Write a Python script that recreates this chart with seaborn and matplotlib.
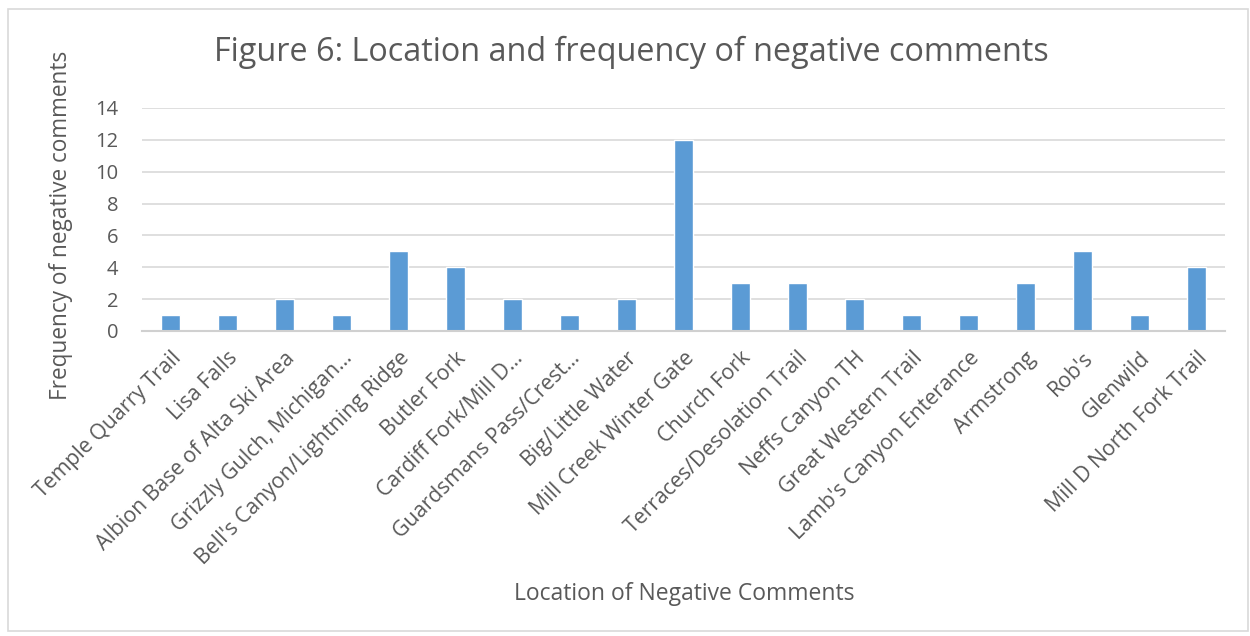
import matplotlib
matplotlib.use("Agg")
import matplotlib.pyplot as plt
import seaborn as sns
import pandas as pd
from matplotlib.patches import Rectangle

locations = [
    "Temple Quarry Trail", "Lisa Falls", "Albion Base of Alta Ski Area",
    "Grizzly Gulch, Michigan…", "Bell's Canyon/Lightning Ridge", "Butler Fork",
    "Cardiff Fork/Mill D…", "Guardsmans Pass/Crest…", "Big/Little Water",
    "Mill Creek Winter Gate", "Church Fork", "Terraces/Desolation Trail",
    "Neffs Canyon TH", "Great Western Trail", "Lamb's Canyon Enterance",
    "Armstrong", "Rob's", "Glenwild", "Mill D North Fork Trail",
]
counts = [1, 1, 2, 1, 5, 4, 2, 1, 2, 12, 3, 3, 2, 1, 1, 3, 5, 1, 4]
y_ticks = [0, 2, 4, 6, 8, 10, 12, 14]

sns.set_theme(style="white")
plt.rcParams['font.family'] = ['Open Sans', 'DejaVu Sans']
text_color = "#595959"

df = pd.DataFrame({"Location": locations, "Count": counts})

fig = plt.figure(figsize=(12.5, 6.36), dpi=100)
ax = fig.add_axes([0.1136, 0.4796, 0.8664, 0.3506])

sns.barplot(data=df, x="Location", y="Count", color="#5B9BD5", width=0.32,
            saturation=1, ax=ax, zorder=3)

ax.set_xlim(-0.5, len(locations) - 0.5)
ax.set_ylim(0, 14)
ax.set_yticks(y_ticks)
ax.yaxis.grid(True, color="#D9D9D9", linewidth=1.2, zorder=0)
ax.xaxis.grid(False)
for s in ["top", "right", "left"]:
    ax.spines[s].set_visible(False)
ax.spines["bottom"].set_color("#D0D0D0")
ax.spines["bottom"].set_linewidth(1.5)
ax.spines["bottom"].set_zorder(4)

ax.tick_params(axis="y", length=0, labelsize=14.5, labelcolor=text_color, pad=17)
ax.tick_params(axis="x", length=0, labelsize=15.3, labelcolor=text_color, pad=12)
plt.setp(ax.get_xticklabels(), rotation=45, ha="right", rotation_mode="anchor")

ax.set_xlabel("")
ax.set_ylabel("")
fig.text(0.049, 0.645, "Frequency of negative comments", rotation=90,
         ha="center", va="center", fontsize=16.3, color=text_color)
fig.text(0.547, 0.066, "Location of Negative Comments", ha="center",
         va="center", fontsize=16.5, color=text_color)
fig.text(0.505, 0.918, "Figure 6: Location and frequency of negative comments",
         ha="center", va="center", fontsize=23.3, color=text_color)

fig.patches.append(Rectangle((0.006, 0.008), 0.992, 0.978, transform=fig.transFigure,
                             fill=False, edgecolor="#D9D9D9", linewidth=1.2))

fig.savefig("out.png", dpi=100)
